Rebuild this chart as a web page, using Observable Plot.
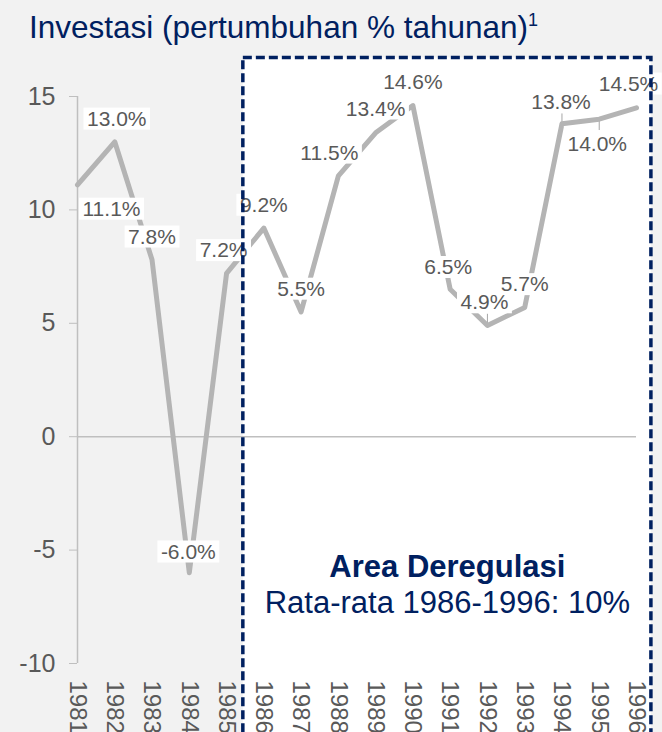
<!DOCTYPE html>
<html>
<head>
<meta charset="utf-8">
<script src="https://cdn.jsdelivr.net/npm/d3@7"></script>
<script src="https://cdn.jsdelivr.net/npm/@observablehq/plot@0.6"></script>
<style>
  html, body { margin: 0; padding: 0; background: #f2f2f2; overflow: hidden; }
  #wrap { position: relative; width: 662px; height: 732px; font-family: "Liberation Sans", Arial, sans-serif; }
  #title { position: absolute; left: 29px; top: 9px; font-size: 31.5px; color: #002060; white-space: nowrap; line-height: 36px; }
  #title sup { font-size: 18px; vertical-align: 0; position: relative; top: -12px; }
  #chart { position: absolute; left: 0; top: 0; }
</style>
</head>
<body>
<div id="wrap">
  <div id="chart"></div>
  <div id="title">Investasi (pertumbuhan % tahunan)<sup>1</sup></div>
</div>
<script>
// ---- data ----
const years = [1981, 1982, 1983, 1984, 1985, 1986, 1987, 1988, 1989, 1990, 1991, 1992, 1993, 1994, 1995, 1996];
const growth = [11.1, 13.0, 7.8, -6.0, 7.2, 9.2, 5.5, 11.5, 13.4, 14.6, 6.5, 4.9, 5.7, 13.8, 14.0, 14.5];
const yTicks = [-10, -5, 0, 5, 10, 15];
const deregFrom = 1986, deregTo = 1996;
const deregTitle = "Area Deregulasi";
const deregNote = "Rata-rata 1986-1996: 10%";

// label placement (pixel offsets from the point), default is above
const labelOffsets = {1981: [34, 24], 1982: [2, -23], 1984: [-1, -21], 1985: [-3, -23], 1988: [-9, -23],
  1989: [0, -24], 1991: [-2, -22], 1992: [-3, -23], 1994: [-1, -21], 1995: [-2, 25], 1996: [-8, -24]};
// years whose label has a small leader line (direction: +1 label above, -1 label below)
const leaderYears = {1992: 1, 1994: 1, 1995: -1};

const rows = years.map((y, i) => ({year: y, value: growth[i], label: growth[i].toFixed(1) + "%"}));
const labelSet = new Set(rows.map(r => r.label));
const leaders = rows.filter(r => r.year in leaderYears)
  .map(r => ({year: r.year, y1: r.value, y2: r.value + leaderYears[r.year] * 0.5}));

// box around deregulation period
const box = [{x1: deregFrom - 0.55, x2: deregTo + 0.4, y1: 16.7, y2: -14}];
const boxMidX = (box[0].x1 + box[0].x2) / 2;

const navy = "#002060";
const labelGrey = "#595959";

const labelMarks = rows.map(r => {
  const [dx, dy] = labelOffsets[r.year] || [0, -23];
  return Plot.text([r], {x: "year", y: "value", text: "label", dx, dy, fontSize: 21, fill: labelGrey});
});

const plot = Plot.plot({
  width: 662,
  height: 732,
  marginLeft: 77,
  marginRight: 26,
  marginTop: 96,
  marginBottom: 69,
  style: {background: "transparent", fontFamily: "'Liberation Sans', Arial, sans-serif", overflow: "visible"},
  x: {type: "linear", domain: [1981, 1996]},
  y: {domain: [-10, 15]},
  marks: [
    Plot.rect(box, {x1: "x1", x2: "x2", y1: "y1", y2: "y2", fill: "white"}),
    Plot.ruleY([0], {x1: 1981, x2: 1996, stroke: "#bfbfbf", strokeWidth: 1.5}),
    Plot.ruleX([1981], {y1: -10, y2: 15, stroke: "#bfbfbf", strokeWidth: 1.5}),
    Plot.axisY(yTicks, {tickSize: 8, tickPadding: 14, fontSize: 25, stroke: "#bfbfbf", fill: labelGrey, label: null, tickFormat: d => String(d)}),
    Plot.axisX(years, {tickRotate: 90, tickSize: 0, tickPadding: 17, fontSize: 24, fill: labelGrey, tickFormat: d => String(d), label: null}),
    Plot.ruleX(leaders, {x: "year", y1: "y1", y2: "y2", stroke: "#a6a6a6", strokeWidth: 1}),
    Plot.line(rows, {x: "year", y: "value", stroke: "#b4b4b4", strokeWidth: 5}),
    ...labelMarks,
    Plot.text([deregTitle], {x: boxMidX, y: -5.75, text: d => d, fontSize: 31, fontWeight: "bold", fill: navy}),
    Plot.text([deregNote], {x: boxMidX, y: -7.35, text: d => d, fontSize: 31, fill: navy}),
    Plot.rect(box, {x1: "x1", x2: "x2", y1: "y1", y2: "y2", fill: "none", stroke: navy, strokeWidth: 3.5, strokeDasharray: "9,4"})
  ]
});

document.getElementById("chart").appendChild(plot);

// white boxes behind data labels
Array.from(plot.querySelectorAll("text")).forEach(t => {
  if (!labelSet.has(t.textContent.trim())) return;
  const b = t.getBBox();
  const r = document.createElementNS("http://www.w3.org/2000/svg", "rect");
  r.setAttribute("x", b.x - 3.5);
  r.setAttribute("y", b.y + 1);
  r.setAttribute("width", b.width + 7);
  r.setAttribute("height", Math.max(0, b.height - 1));
  r.setAttribute("fill", "white");
  r.setAttribute("stroke", "none");
  const tr = t.getAttribute("transform");
  if (tr) r.setAttribute("transform", tr);
  t.parentNode.insertBefore(r, t);
});
</script>
</body>
</html>
